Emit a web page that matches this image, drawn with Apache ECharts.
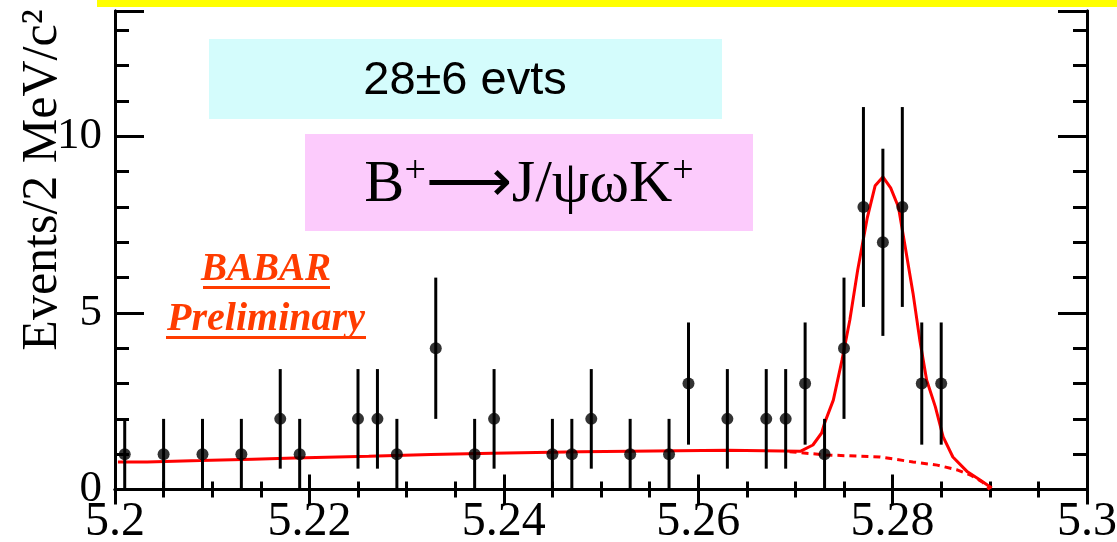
<!DOCTYPE html>
<html>
<head>
<meta charset="utf-8">
<script src="https://cdn.jsdelivr.net/npm/echarts@6/dist/echarts.min.js"></script>
<style>
  html, body { margin: 0; padding: 0; background: #fff; }
  #chart { width: 1117px; height: 542px; }
</style>
</head>
<body>
<div id="chart"></div>
<script>
// data points: bin centre (GeV/c^2), events per 2 MeV, error
const massBins = [5.201, 5.205, 5.209, 5.213, 5.217, 5.219, 5.225, 5.227, 5.229, 5.233,
  5.237, 5.239, 5.245, 5.247, 5.249, 5.253, 5.257, 5.259, 5.263, 5.267,
  5.269, 5.271, 5.273, 5.275, 5.277, 5.279, 5.281, 5.283, 5.285]
const events = [1, 1, 1, 1, 2, 1, 2, 2, 1, 4,
  1, 2, 1, 1, 2, 1, 1, 3, 2, 2,
  2, 3, 1, 4, 8, 7, 8, 3, 3]
const eventErr = [1, 1, 1, 1, 1.41, 1, 1.41, 1.41, 1, 2,
  1, 1.41, 1, 1, 1.41, 1, 1, 1.73, 1.41, 1.41,
  1.41, 1.73, 1, 2, 2.83, 2.65, 2.83, 1.73, 1.73]

// total fit curve
const fitMass = [5.2003, 5.2033, 5.2033, 5.2088, 5.2088, 5.2142, 5.2142, 5.2185, 5.2185, 5.2261,
  5.2261, 5.2325, 5.2325, 5.2388, 5.2388, 5.2479, 5.2479, 5.2630, 5.2630, 5.2705,
  5.2718, 5.2727, 5.2730, 5.2739, 5.2748, 5.2756, 5.2764, 5.2774, 5.2782, 5.2790,
  5.2798, 5.2806, 5.2813, 5.2821, 5.2828, 5.2835, 5.2844, 5.2852, 5.2862, 5.2877,
  5.2890, 5.2902]
const fitTotal = [0.78, 0.78, 0.82, 0.82, 0.86, 0.86, 0.89, 0.89, 0.94, 0.94,
  0.99, 0.99, 1.03, 1.03, 1.07, 1.07, 1.11, 1.11, 1.08, 1.08,
  1.26, 1.6, 1.88, 2.53, 3.67, 4.8, 6.2, 7.7, 8.6, 8.85,
  8.54, 8.0, 6.87, 5.56, 4.23, 3.1, 2.34, 1.49, 0.92, 0.5,
  0.27, 0.04]

// background component (dashed)
const bkgMass = [5.2694, 5.2731, 5.2787, 5.2821, 5.2846, 5.2867, 5.2880, 5.2893, 5.2900]
const bkgValues = [1.07, 0.98, 0.92, 0.78, 0.69, 0.55, 0.41, 0.2, 0]

const xTicks = { min: 5.2, max: 5.3, step: 0.02 }
const yTicks = { min: 0, max: 13.55, major: 5, minor: 1 }

const serif = 'Liberation Serif'
const black = '#000'
const babarRed = '#ff3c00'

function xAxis(position, labels) {
  return {
    type: 'value', position, min: xTicks.min, max: xTicks.max, interval: xTicks.step,
    axisLine: { lineStyle: { color: black, width: 3 } },
    axisTick: { inside: true, length: 15, lineStyle: { color: black, width: 3 } },
    minorTick: { show: true, splitNumber: 4, length: 8, lineStyle: { color: black, width: 3 } },
    splitLine: { show: false },
    axisLabel: {
      show: labels, margin: 9, color: black, fontFamily: serif, fontSize: 48,
      formatter: v => String(+v.toFixed(2))
    }
  }
}

function yAxis(position, interval, tickLen, labels) {
  return {
    type: 'value', position, min: yTicks.min, max: yTicks.max, interval,
    axisLine: { show: true, lineStyle: { color: black, width: 3 } },
    axisTick: { inside: true, length: tickLen, lineStyle: { color: black, width: 3 } },
    splitLine: { show: false },
    axisLabel: {
      show: labels, margin: 13, color: black, fontFamily: serif, fontSize: 45,
      formatter: v => Math.abs(v - Math.round(v / 5) * 5) < 1e-6 ? String(Math.round(v)) : ''
    }
  }
}

const chart = echarts.init(document.getElementById('chart'))
chart.setOption({
  animation: false,
  backgroundColor: '#fff',
  grid: { left: 115, right: 30, top: 11, bottom: 52.5, containLabel: false, outerBoundsMode: 'none' },
  xAxis: [xAxis('bottom', true), xAxis('top', false)],
  yAxis: [
    yAxis('left', yTicks.major, 29, true),
    yAxis('left', yTicks.minor, 14, false),
    yAxis('right', yTicks.major, 29, false),
    yAxis('right', yTicks.minor, 14, false)
  ],
  series: [
    {
      type: 'line', data: bkgMass.map((m, i) => [m, bkgValues[i]]),
      showSymbol: false, lineStyle: { color: '#ff0000', width: 3, type: [7, 5] }, z: 2
    },
    {
      type: 'line', data: fitMass.map((m, i) => [m, fitTotal[i]]),
      showSymbol: false, lineStyle: { color: '#ff0000', width: 3 }, z: 2
    },
    {
      type: 'custom', z: 3,
      data: massBins.map((m, i) => [m, events[i], eventErr[i]]),
      encode: { x: 0, y: 1 },
      renderItem(params, api) {
        const x = api.value(0), y = api.value(1), e = api.value(2)
        const lo = api.coord([x, Math.max(0, y - e)])
        const hi = api.coord([x, y + e])
        return { type: 'line', shape: { x1: lo[0], y1: lo[1], x2: hi[0], y2: hi[1] },
          style: { stroke: black, lineWidth: 3 } }
      }
    },
    {
      type: 'scatter', z: 4, symbol: 'circle', symbolSize: 12,
      itemStyle: { color: black },
      data: massBins.map((m, i) => [m, events[i]])
    }
  ],
  graphic: [
    { type: 'rect', shape: { x: 97, y: 0, width: 1020, height: 7 }, style: { fill: '#ffff00' } },
    { type: 'rect', shape: { x: 209, y: 39, width: 513, height: 80 }, style: { fill: '#d4fcfc' } },
    { type: 'text', x: 465, y: 81, style: { text: '28±6 evts', fontFamily: 'Liberation Sans', fontSize: 47, fill: black, align: 'center', verticalAlign: 'middle' } },
    { type: 'rect', shape: { x: 305, y: 134, width: 448, height: 97 }, style: { fill: '#fccbfc' } },
    {
      type: 'text', x: 529, y: 185,
      style: {
        text: '{n|B}{s|+}{n|⟶J/ψωK}{s|+}', align: 'center', verticalAlign: 'middle',
        rich: {
          n: { fontFamily: serif, fontSize: 60, fill: black, lineHeight: 64 },
          s: { fontFamily: serif, fontSize: 38, fill: black, lineHeight: 64, verticalAlign: 'top' }
        }
      }
    },
    { type: 'text', x: 266, y: 270, style: { text: 'BABAR', fontFamily: serif, fontStyle: 'italic', fontWeight: 'bold', fontSize: 39, fill: babarRed, align: 'center', verticalAlign: 'middle' } },
    { type: 'rect', shape: { x: 203, y: 286, width: 127, height: 3 }, style: { fill: babarRed } },
    { type: 'text', x: 266, y: 320, style: { text: 'Preliminary', fontFamily: serif, fontStyle: 'italic', fontWeight: 'bold', fontSize: 40, fill: babarRed, align: 'center', verticalAlign: 'middle' } },
    { type: 'rect', shape: { x: 166, y: 336, width: 200, height: 3 }, style: { fill: babarRed } },
    {
      type: 'text', x: 43, y: 180, rotation: Math.PI / 2,
      style: { text: 'Events/2 MeV/c²', fontFamily: serif, fontSize: 50, fill: black, align: 'center', verticalAlign: 'middle' }
    }
  ]
})
</script>
</body>
</html>
